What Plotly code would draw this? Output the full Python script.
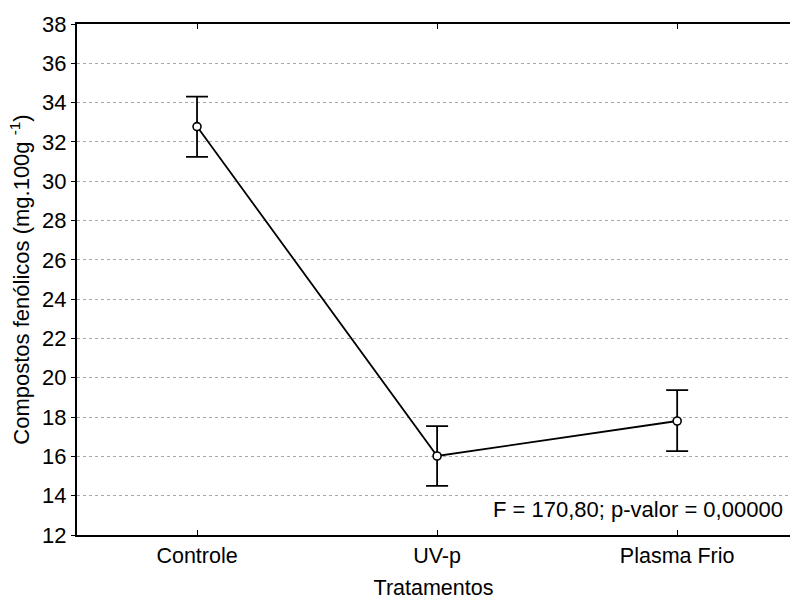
import plotly.graph_objects as go

categories = ["Controle", "UV-p", "Plasma Frio"]
means = [32.78, 16.02, 17.80]
upper = [34.30, 17.54, 19.37]
lower = [31.24, 14.50, 16.27]
y_ticks = list(range(12, 39, 2))

err_plus = [u - m for u, m in zip(upper, means)]
err_minus = [m - l for m, l in zip(means, lower)]

fig = go.Figure()
fig.add_trace(go.Scatter(
    x=[0, 1, 2], y=means, mode="lines+markers",
    line=dict(color="black", width=1.8),
    marker=dict(symbol="circle", size=8, color="white", line=dict(color="black", width=1.6)),
    error_y=dict(type="data", symmetric=False, array=err_plus, arrayminus=err_minus,
                 color="black", thickness=1.8, width=11),
    showlegend=False,
))

font = "Liberation Sans, Arial, sans-serif"
fig.update_layout(
    width=790, height=600,
    margin=dict(l=77, r=0, t=24, b=65),
    plot_bgcolor="white", paper_bgcolor="white",
    font=dict(family=font, size=22, color="black"),
    xaxis=dict(
        range=[-0.5, 2.47], tickmode="array", tickvals=[0, 1, 2], ticktext=categories,
        showline=True, linecolor="black", linewidth=2, mirror="ticks",
        ticks="inside", ticklen=5, tickcolor="black", tickwidth=1,
        showgrid=False, zeroline=False,
        title=dict(text="Tratamentos", font=dict(size=21.5), standoff=18),
        tickfont=dict(size=21.5),
    ),
    yaxis=dict(
        range=[12, 38], tickmode="array", tickvals=y_ticks,
        showline=True, linecolor="black", linewidth=2,
        ticks="outside", ticklen=4, tickcolor="black",
        showgrid=True, gridcolor="#a8a8a8", griddash="dot", gridwidth=1,
        zeroline=False,
        title=dict(text="Compostos fenólicos (mg.100g <sup>-1</sup>)", font=dict(size=22), standoff=6),
        tickfont=dict(size=22),
    ),
    annotations=[dict(
        x=1, y=13.3, xref="paper", yref="y", xanchor="right", yanchor="middle",
        xshift=-5,
        text="F = 170,80; p-valor = 0,00000", showarrow=False,
        font=dict(size=22, family=font, color="black"),
    )],
)

fig.write_html("out.html")
